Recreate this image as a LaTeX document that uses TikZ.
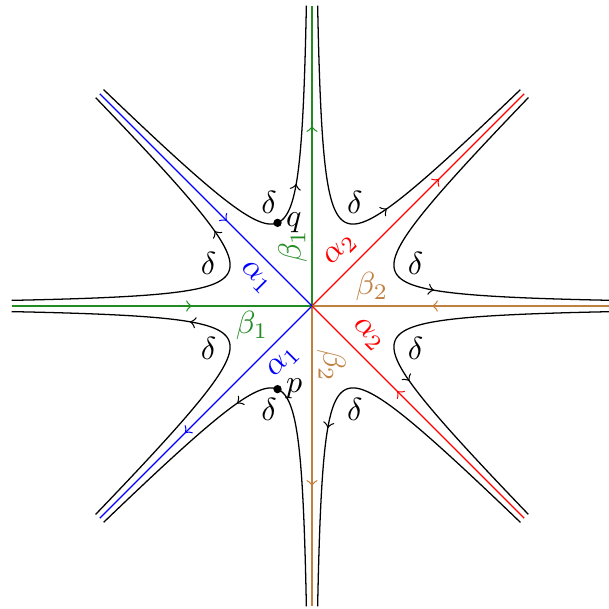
\documentclass[tikz,border=0pt]{standalone}
\usepackage{amsmath,amssymb}
\usetikzlibrary{decorations.markings}
\definecolor{SepGreen}{HTML}{228B22}
\definecolor{SepRed}{HTML}{FF0000}
\definecolor{SepBlue}{HTML}{0000FF}
\definecolor{SepBrown}{HTML}{BF8040}
\tikzset{
  flow/.style={postaction={decorate},
    decoration={markings,mark=at position 0.6 with {\arrow{>}}}},
  dot/.style={circle,fill,inner sep=0pt,minimum size=2.6pt}
}

\begin{document}
\begin{tikzpicture}[x=1.1cm,y=1.1cm]
    \useasboundingbox (-3.12,-3.03) rectangle (2.96,3.06);
    \coordinate (O) at (0,0);
    % separatrices leaving the saddle
    \foreach \a/\c/\n in {90/SepGreen/n,45/SepRed/ne,-90/SepBrown/s,225/SepBlue/sw} {
      \coordinate (\n) at (\a:3);
      \draw[\c,flow] (O) -- (\n);
    }
    % separatrices entering the saddle
    \foreach \a/\c/\n in {0/SepBrown/e,-45/SepRed/se,180/SepGreen/w,135/SepBlue/nw} {
      \coordinate (\n) at (\a:3);
      \draw[\c,flow] (\n) -- (O);
    }
    \foreach \a/\c/\lab/\r [count=\i] in {90/SepGreen/\beta_1/90,45/SepRed/\alpha_2/45,
        0/SepBrown/\beta_2/0,-45/SepRed/\alpha_2/-45,-90/SepBrown/\beta_2/-90,
        225/SepBlue/\alpha_1/45,180/SepGreen/\beta_1/0,135/SepBlue/\alpha_1/-45}
      \node[text=\c,rotate=\r] (sep\i) at (\a+18:0.63) {$\lab$};
    % trajectories in the eight sectors
    \foreach \a [count=\i] in {22.5,67.5,...,337.5} {
      \draw[flow,rotate=\a] plot[domain=0:3.6,samples=100,variable=\u]
        ({0.45*(exp(\u-1.8)+exp(1.8-\u))},{0.1865*(exp(1.8-\u)-exp(\u-1.8))});
      \node (d\i) at (\a:1.12) {$\delta$};
    }
    \node[dot,label={[inner sep=1pt]right:$q$}] (q) at (112.5:0.9) {};
    \node[dot,label={[inner sep=1pt]right:$p$}] (p) at (247.5:0.9) {};
  \end{tikzpicture}
\end{document}
